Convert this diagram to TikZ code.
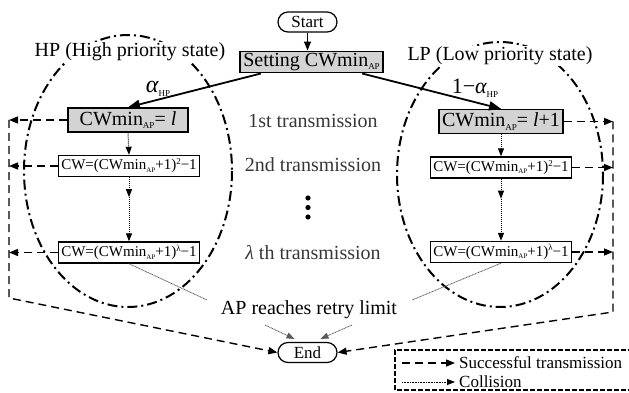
\documentclass[tikz,border=0pt]{standalone}
\usepackage{fontspec}
\setmainfont{Liberation Serif}
\usetikzlibrary{positioning,arrows.meta,calc}

% font sizes used in the chart
\newcommand{\bigfont}{\fontsize{20}{22}\selectfont}
\newcommand{\midfont}{\fontsize{15}{17}\selectfont}
\newcommand{\legfont}{\fontsize{17}{19}\selectfont}
% small lowered / raised indices
\newcommand{\sbs}[2][9]{\raisebox{-0.35ex}{\fontsize{#1}{#1}\selectfont #2}}
\newcommand{\sps}[2][9]{\raisebox{0.75ex}{\fontsize{#1}{#1}\selectfont #2}}

\definecolor{boxgray}{RGB}{211,211,211}
\definecolor{txtgray}{RGB}{55,55,55}

\tikzset{
  pill/.style={draw, line width=1.2pt, rounded corners=10pt, minimum width=59pt, minimum height=20pt, inner sep=2pt, font=\fontsize{17}{19}\selectfont},
  setbox/.style={draw, line width=1.4pt, fill=boxgray, minimum width=143pt, minimum height=20pt, inner sep=2pt, font=\bigfont},
  bigbox/.style={draw, line width=1.4pt, fill=boxgray, minimum width=120pt, minimum height=24pt, inner sep=3pt, font=\bigfont},
  smallbox/.style={draw, line width=1.4pt, fill=white, minimum width=141pt, minimum height=21pt, inner sep=2pt, font=\midfont},
  ellip/.style={line width=2pt, dash pattern=on 10pt off 4pt on 2pt off 4pt},
  succ/.style={line width=1.4pt, dash pattern=on 8pt off 5pt, -{Triangle[length=9pt,width=7pt]}},
  coll/.style={line width=1pt, dash pattern=on 1pt off 1pt, -{Triangle[length=8pt,width=6pt]}},
  thin/.style={line width=0.8pt, gray!70!black, dash pattern=on 1pt off 0.6pt},
  pick/.style={line width=1.8pt, -{Triangle[length=12pt,width=9pt]}},
  midtxt/.style={text=txtgray, font=\bigfont},
}

\begin{document}
\begin{tikzpicture}[x=1pt,y=-1pt]
  \useasboundingbox (0,0) rectangle (629,393);
  % the two priority states
  \draw[ellip] (128,171) ellipse [x radius=104, y radius=136];
  \draw[ellip] (500,174.5) ellipse [x radius=103, y radius=132.5];
  \node[fill=white, inner sep=1pt, font=\bigfont] (hptxt) at (130,52) {HP (High priority state)};
  \node[fill=white, inner sep=1pt, font=\bigfont] (lptxt) at (500,56) {LP (Low priority state)};

  % start and first choice
  \node[pill] (start) at (307.5,22) {Start};
  \node[setbox] (set) at (311.5,62) {Setting CWmin\sbs{AP}};
  \draw[pick, line width=1.2pt, -{Triangle[length=9pt,width=7pt]}] (start.south) -- (start.south |- set.north);

  % HP chain
  \node[bigbox] (hp1) at (128,120) {CWmin\sbs{AP}= {\itshape l}};
  \node[smallbox] (hp2) at (129,166) {CW=(CWmin\sbs[7]{AP}+1)\sps{2}−1};
  \node[smallbox] (hpl) at (129,252.5) {CW=(CWmin\sbs[7]{AP}+1)\sps{λ}−1};

  % LP chain
  \node[bigbox] (lp1) at (501,121.5) {CWmin\sbs{AP}= {\itshape l}+1};
  \node[smallbox] (lp2) at (501,167.5) {CW=(CWmin\sbs[7]{AP}+1)\sps{2}−1};
  \node[smallbox] (lpl) at (501,252) {CW=(CWmin\sbs[7]{AP}+1)\sps{λ}−1};

  \draw[pick] ($(set.south west)!0.15!(set.south east)$) -- (hp1.north);
  \draw[pick] ($(set.south west)!0.85!(set.south east)$) -- (lp1.north);
  \node[font=\fontsize{24}{24}\selectfont] (ahp) at (158,89) {{\itshape α}\sbs{HP}};
  \node[font=\fontsize{22}{22}\selectfont] (alp) at (475,88) {1−{\itshape α}\sbs{HP}};

  % collisions go one stage down
  \draw[coll] (hp1.south) -- (hp2.north);
  \coordinate (hpm) at ($(hp2.south)+(0,20)$);
  \draw[coll] (hp2.south) -- (hpm);
  \draw[coll] (hpm) -- (hpl.north);
  \draw[coll] (lp1.south) -- (lp2.north);
  \coordinate (lpm) at ($(lp2.south)+(0,20)$);
  \draw[coll] (lp2.south) -- (lpm);
  \draw[coll] (lpm) -- (lpl.north);

  % stage labels
  \node[midtxt] (t1) at (313,121) {1st transmission};
  \node[midtxt] (t2) at (313,165) {2nd transmission};
  \foreach \y in {198,207.5,217}
    \fill (308,\y) circle (2.6);
  \node[midtxt] (tl) at (313,253) {{\itshape λ} th transmission};
  \node[font=\bigfont] (retry) at (309,310) {AP reaches retry limit};

  % success exits
  \node[pill] (endn) at (307.5,352.5) {End};
  \coordinate (lt) at (9,120);
  \coordinate (lb) at (9,298);
  \coordinate (rt) at (613,121.5);
  \coordinate (rb) at (613,312);
  \draw[succ] (hp1.west) -- (hp1.west -| lt);
  \draw[succ] (hp2.west) -- (hp2.west -| lt);
  \draw[succ] (hpl.west) -- (hpl.west -| lt);
  \draw[succ] (lp1.east) -- (lp1.east -| rt);
  \draw[succ] (lp2.east) -- (lp2.east -| rt);
  \draw[succ] (lpl.east) -- (lpl.east -| rt);
  \draw[succ] (lt) -- (lb) -- (endn.west);
  \draw[succ] (rt) -- (rb) -- (endn.east);

  % retry limit reached
  \coordinate (hpc) at (207,300);
  \coordinate (lpc) at (412,300);
  \draw[thin] (hpl.south) -- (hpc);
  \draw[thin] (lpl.south) -- (lpc);
  \coordinate (r1) at (265,325);
  \coordinate (r2) at (352,325);
  \draw[thin, -{Triangle[length=8pt,width=6pt]}] (r1) -- ($(endn.north)+(-13,-3)$);
  \draw[thin, -{Triangle[length=8pt,width=6pt]}] (r2) -- ($(endn.north)+(13,-3)$);

  % legend
  \draw[line width=1.2pt, dash pattern=on 5pt off 2pt] (633,350) -- (395,350) -- (395,390) -- (633,390);
  \node[anchor=west, font=\legfont, inner sep=1pt] (lg1) at (458,363) {Successful transmission};
  \node[anchor=west, font=\legfont, inner sep=1pt] (lg2) at (458,382) {Collision};
  \draw[succ, shorten >=3pt] ($(lg1.west)+(-56,0)$) -- (lg1.west);
  \draw[thin, -{Triangle[length=8pt,width=6pt]}, black, shorten >=3pt] ($(lg2.west)+(-56,0)$) -- (lg2.west);
\end{tikzpicture}
\end{document}
